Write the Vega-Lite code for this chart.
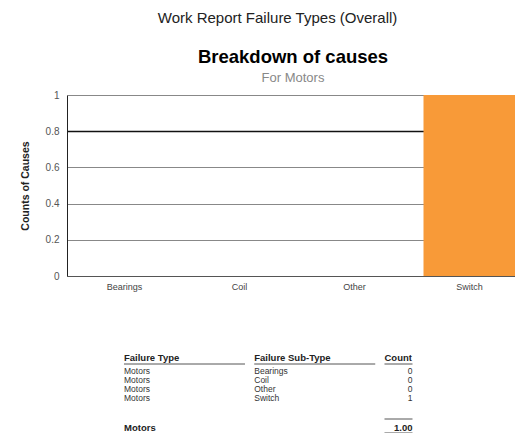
{
  "$schema": "https://vega.github.io/schema/vega-lite/v6.json",
  "background": "white",
  "padding": {"left": 20, "top": 10, "right": 0, "bottom": 0},
  "config": {"font": "Liberation Sans", "view": {"stroke": null}},
  "title": {"text": "Work Report Failure Types (Overall)", "fontSize": 15, "fontWeight": "normal", "color": "#222", "anchor": "middle", "offset": 22, "dx": 4},
  "spacing": 62,
  "datasets": {
    "causes": [
      {"cause": "Bearings", "count": 0},
      {"cause": "Coil", "count": 0},
      {"cause": "Other", "count": 0},
      {"cause": "Switch", "count": 1}
    ],
    "cells": [
      {"row": 0, "col": 0, "kind": "header", "text": "Failure Type"},
      {"row": 0, "col": 1, "kind": "header", "text": "Failure Sub-Type"},
      {"row": 0, "col": 2, "kind": "header", "text": "Count"},
      {"row": 1, "col": 0, "kind": "body", "text": "Motors"},
      {"row": 1, "col": 1, "kind": "body", "text": "Bearings"},
      {"row": 1, "col": 2, "kind": "bodycount", "text": "0"},
      {"row": 2, "col": 0, "kind": "body", "text": "Motors"},
      {"row": 2, "col": 1, "kind": "body", "text": "Coil"},
      {"row": 2, "col": 2, "kind": "bodycount", "text": "0"},
      {"row": 3, "col": 0, "kind": "body", "text": "Motors"},
      {"row": 3, "col": 1, "kind": "body", "text": "Other"},
      {"row": 3, "col": 2, "kind": "bodycount", "text": "0"},
      {"row": 4, "col": 0, "kind": "body", "text": "Motors"},
      {"row": 4, "col": 1, "kind": "body", "text": "Switch"},
      {"row": 4, "col": 2, "kind": "bodycount", "text": "1"},
      {"row": 7, "col": 0, "kind": "total", "text": "Motors"},
      {"row": 7, "col": 2, "kind": "totalcount", "text": "1.00"}
    ],
    "lines": [
      {"row": 0, "col": 0, "kind": "wide"},
      {"row": 0, "col": 1, "kind": "wide"},
      {"row": 0, "col": 2, "kind": "narrow"},
      {"row": 6, "col": 2, "kind": "above"},
      {"row": 7, "col": 2, "kind": "below"}
    ]
  },
  "vconcat": [
    {
      "width": 448,
      "height": 181,
      "title": {"text": "Breakdown of causes", "subtitle": "For Motors", "fontSize": 18.5, "fontWeight": "bold", "color": "#000", "subtitleFontSize": 13, "subtitleColor": "#888", "subtitlePadding": 6, "offset": 5, "anchor": "middle", "dx": 2},
      "data": {"name": "causes"},
      "mark": {"type": "bar", "color": "#F89A38", "clip": true},
      "encoding": {
        "x": {"field": "cause", "type": "nominal", "sort": null,
          "scale": {"range": [0, 460], "paddingInner": 0.2, "paddingOuter": 0.1},
          "axis": {"title": null, "labelAngle": 0, "labelFontSize": 9, "labelColor": "#444", "ticks": false, "labelPadding": 6, "domainColor": "#555", "domainWidth": 1}},
        "y": {"field": "count", "type": "quantitative", "scale": {"domain": [0, 1]},
          "axis": {"title": "Counts of Causes", "titleFontSize": 10.5, "titleFontWeight": "bold", "titleColor": "#222", "titlePadding": 15,
            "values": [0, 0.2, 0.4, 0.6, 0.8, 1], "format": "~g", "labelFontSize": 10, "labelColor": "#555", "ticks": false, "labelPadding": 8,
            "domainColor": "#222", "grid": true,
            "gridColor": {"condition": {"test": "datum.value == 0.8", "value": "#111"}, "value": "#888"},
            "gridWidth": {"condition": {"test": "datum.value == 0.8", "value": 1.5}, "value": 1}}}
      }
    },
    {
      "width": 448,
      "height": 72,
      "encoding": {
        "x": {"field": "col", "type": "quantitative", "scale": {"domain": [-0.4376, 3.002], "nice": false, "zero": false}, "axis": null},
        "y": {"field": "row", "type": "quantitative", "scale": {"domain": [0, 8], "nice": false, "zero": false, "reverse": true}, "axis": null}
      },
      "layer": [
        {"data": {"name": "cells"}, "transform": [{"filter": "datum.kind == 'header'"}],
          "mark": {"type": "text", "align": "left", "baseline": "middle", "fontSize": 9.5, "fontWeight": "bold", "color": "#222", "dy": -4},
          "encoding": {"text": {"field": "text"}}},
        {"data": {"name": "cells"}, "transform": [{"filter": "datum.kind == 'body'"}],
          "mark": {"type": "text", "align": "left", "baseline": "middle", "fontSize": 8.5, "color": "#333"},
          "encoding": {"text": {"field": "text"}}},
        {"data": {"name": "cells"}, "transform": [{"filter": "datum.kind == 'bodycount'"}],
          "mark": {"type": "text", "align": "right", "baseline": "middle", "fontSize": 8.5, "color": "#333", "dx": 28},
          "encoding": {"text": {"field": "text"}}},
        {"data": {"name": "cells"}, "transform": [{"filter": "datum.kind == 'total'"}],
          "mark": {"type": "text", "align": "left", "baseline": "middle", "fontSize": 9.5, "fontWeight": "bold", "color": "#222", "dy": 3},
          "encoding": {"text": {"field": "text"}}},
        {"data": {"name": "cells"}, "transform": [{"filter": "datum.kind == 'totalcount'"}],
          "mark": {"type": "text", "align": "right", "baseline": "middle", "fontSize": 9.5, "fontWeight": "bold", "color": "#222", "dx": 28, "dy": 3},
          "encoding": {"text": {"field": "text"}}},
        {"data": {"name": "lines"}, "transform": [{"filter": "datum.kind == 'wide'"}],
          "mark": {"type": "rule", "color": "#555", "strokeWidth": 1, "x2Offset": 121, "yOffset": 2},
          "encoding": {"x2": {"field": "col"}}},
        {"data": {"name": "lines"}, "transform": [{"filter": "datum.kind == 'narrow'"}],
          "mark": {"type": "rule", "color": "#555", "strokeWidth": 1, "x2Offset": 28, "yOffset": 2},
          "encoding": {"x2": {"field": "col"}}},
        {"data": {"name": "lines"}, "transform": [{"filter": "datum.kind == 'above'"}],
          "mark": {"type": "rule", "color": "#555", "strokeWidth": 1, "x2Offset": 28, "yOffset": 3},
          "encoding": {"x2": {"field": "col"}}},
        {"data": {"name": "lines"}, "transform": [{"filter": "datum.kind == 'below'"}],
          "mark": {"type": "rule", "color": "#555", "strokeWidth": 1, "x2Offset": 28, "yOffset": 8},
          "encoding": {"x2": {"field": "col"}}}
      ]
    }
  ]
}
